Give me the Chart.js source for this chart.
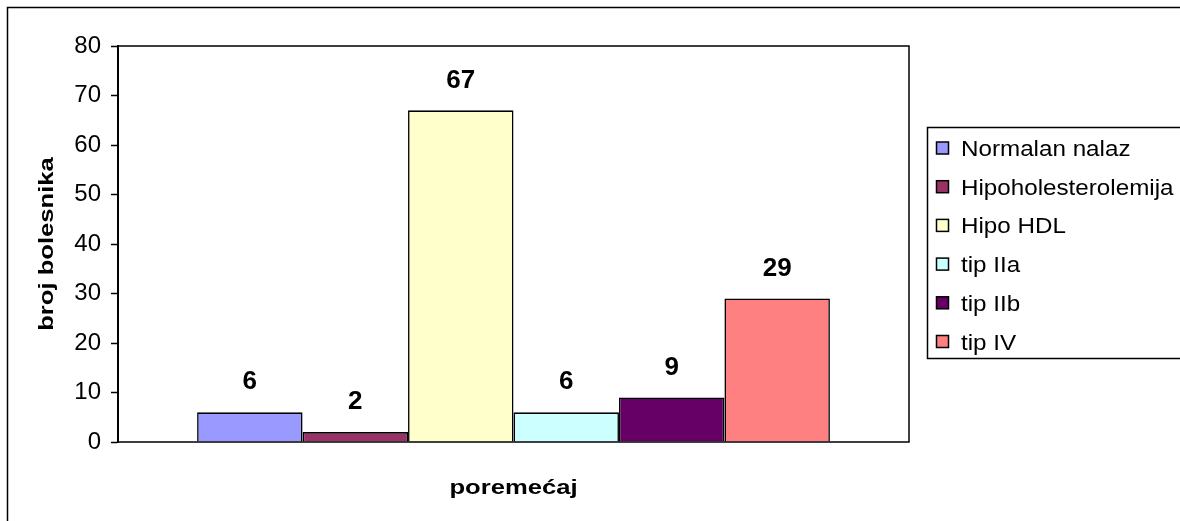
<!DOCTYPE html>
<html>
<head>
<meta charset="utf-8">
<script src="https://cdn.jsdelivr.net/npm/chart.js@4/dist/chart.umd.min.js"></script>
<style>
  html, body { margin: 0; padding: 0; background: #fff; }
  canvas { display: block; }
</style>
</head>
<body>
<canvas id="chart" width="1180" height="521"></canvas>
<script>
const categories = [""];
const seriesNames = ["Normalan nalaz", "Hipoholesterolemija", "Hipo HDL", "tip IIa", "tip IIb", "tip IV"];
const seriesValues = [6, 2, 67, 6, 9, 29];
const seriesColors = ["#9999FF", "#993366", "#FFFFCC", "#CCFFFF", "#660066", "#FF8080"];
const yTicks = [0, 10, 20, 30, 40, 50, 60, 70, 80];

const FONT = "'Liberation Sans', Arial, sans-serif";

// text drawn a little wider than the font's natural width
function wideText(ctx, text, x, y, stretch) {
  ctx.save();
  ctx.translate(x, y);
  ctx.scale(stretch, 1);
  ctx.fillText(text, 0, 0);
  ctx.restore();
}

// frame, plot border, value labels, axis titles and legend box
const decorations = {
  id: "decorations",
  afterDatasetsDraw(chart) {
    const ctx = chart.ctx;
    const area = chart.chartArea;
    ctx.save();

    // outer frame
    ctx.strokeStyle = "#000";
    ctx.lineWidth = 1.5;
    ctx.strokeRect(7.5, 7.5, 1200, 600);

    // plot area border
    ctx.strokeRect(area.left, area.top, area.right - area.left, area.bottom - area.top);

    // value labels above bars
    ctx.fillStyle = "#000";
    ctx.font = "bold 26px " + FONT;
    ctx.textAlign = "center";
    ctx.textBaseline = "middle";
    chart.data.datasets.forEach((ds, i) => {
      const bar = chart.getDatasetMeta(i).data[0];
      ctx.fillText(String(ds.data[0]), bar.x, bar.y - 30);
    });

    // axis titles
    ctx.font = "bold 21px " + FONT;
    wideText(ctx, "poremećaj", (area.left + area.right) / 2, 488, 1.22);
    ctx.save();
    ctx.translate(47, (area.top + area.bottom) / 2);
    ctx.rotate(-Math.PI / 2);
    wideText(ctx, "broj bolesnika", 0, 0, 1.22);
    ctx.restore();

    // legend
    ctx.lineWidth = 1.5;
    ctx.strokeRect(927.5, 127.5, 300, 231);
    ctx.font = "22px " + FONT;
    ctx.textAlign = "left";
    ctx.textBaseline = "alphabetic";
    chart.data.datasets.forEach((ds, i) => {
      const cy = 148.5 + i * 38.7;
      ctx.fillStyle = ds.backgroundColor;
      ctx.fillRect(936.5, cy - 6.5, 12, 12);
      ctx.lineWidth = 1.5;
      ctx.strokeRect(936.5, cy - 6.5, 12, 12);
      ctx.fillStyle = "#000";
      wideText(ctx, ds.label, 961, cy + 7.5, 1.1);
    });

    ctx.restore();
  }
};

new Chart(document.getElementById("chart").getContext("2d"), {
  type: "bar",
  data: {
    labels: categories,
    datasets: seriesNames.map((name, i) => ({
      label: name,
      data: [seriesValues[i]],
      backgroundColor: seriesColors[i],
      borderColor: "#000",
      borderWidth: 1.6,
      categoryPercentage: 0.8,
      barPercentage: 1.0
    }))
  },
  options: {
    responsive: false,
    animation: false,
    layout: { padding: { left: 0, right: 271, top: 46, bottom: 79 } },
    plugins: {
      legend: { display: false },
      tooltip: { enabled: false }
    },
    scales: {
      x: { display: false },
      y: {
        min: 0,
        max: 80,
        afterBuildTicks: (scale) => { scale.ticks = yTicks.map((v) => ({ value: v })); },
        afterFit: (scale) => { scale.width = 118; },
        ticks: {
          color: "#000",
          padding: 10,
          font: { family: FONT, size: 24 }
        },
        grid: {
          drawOnChartArea: false,
          drawTicks: true,
          tickLength: 7,
          tickWidth: 1.5,
          tickColor: "#000"
        },
        border: { color: "#000", width: 2 }
      }
    }
  },
  plugins: [decorations]
});
</script>
</body>
</html>
